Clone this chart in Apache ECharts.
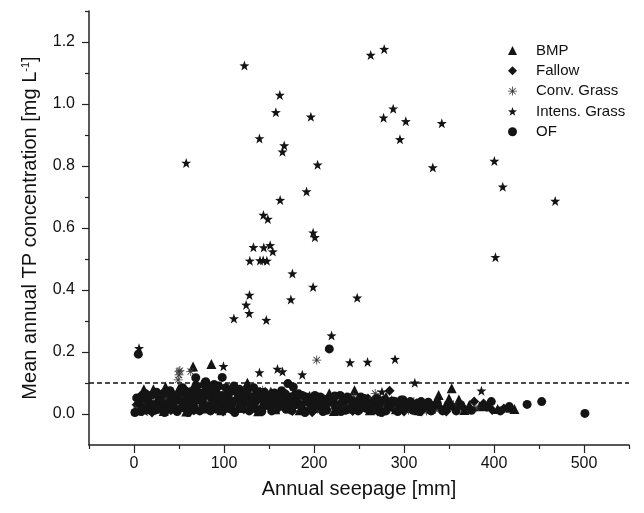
<!DOCTYPE html>
<html>
<head>
<meta charset="utf-8">
<script src="https://cdn.jsdelivr.net/npm/echarts@6/dist/echarts.min.js"></script>
<style>
  html, body { margin: 0; padding: 0; background: #fff; }
  #chart { width: 644px; height: 513px; }
</style>
</head>
<body>
<div id="chart"></div>
<script>
// tick values
var xTicks = [0, 100, 200, 300, 400, 500];
var xMinor = [-50, 50, 150, 250, 350, 450, 550];
var yTicks = [0, 0.2, 0.4, 0.6, 0.8, 1.0, 1.2];
var yMinor = [0.1, 0.3, 0.5, 0.7, 0.9, 1.1, 1.3];
var threshold = 0.1;

// [seepage mm, TP mg/L]
var bmpPts = [
  [2,0.012],[5,0.045],[9,0.028],[11,0.08],[14,0.06],[18,0.015],[21.5,0.08],[24,0.038],[29,0.055],[33,0.01],
  [35,0.088],[38,0.042],[44,0.065],[47,0.022],[50,0.083],[55,0.05],[58,0.008],[62,0.072],[65.6,0.153],[68,0.03],
  [72,0.058],[76,0.099],[81,0.018],[86,0.161],[88,0.046],[93,0.075],[97,0.012],[101,0.062],[106,0.034],[110,0.079],
  [115,0.02],[119,0.052],[126,0.101],[129,0.04],[134,0.068],[138,0.009],[143,0.056],[148,0.03],[152,0.072],[157,0.015],
  [162,0.048],[168,0.064],[173,0.026],[178,0.07],[184,0.012],[189,0.044],[195,0.058],[200,0.02],[206,0.036],[211,0.05],
  [217,0.067],[222,0.01],[228,0.032],[234,0.046],[240,0.018],[245,0.077],[251,0.028],[257,0.04],[262,0.012],[268,0.035],
  [274,0.022],[280,0.056],[285,0.03],[291,0.015],[297,0.038],[303,0.02],[309,0.028],[316,0.012],[322,0.03],[329,0.018],
  [338.5,0.061],[345,0.02],[350,0.05],[353,0.083],[361,0.047],[367,0.013],[372.6,0.029],[384,0.025],[404,0.016],[418,0.02],
  [422.7,0.016]
];
var fallowPts = [
  [3,0.03],[7,0.058],[12,0.02],[16,0.042],[20,0.005],[26,0.066],[31,0.03],[36,0.052],[41,0.012],[46,0.04],
  [52,0.068],[57,0.025],[61,0.045],[66,0.012],[70,0.078],[75,0.038],[79,0.055],[84,0.022],[90,0.065],[95,0.04],
  [99,0.008],[104,0.05],[109,0.028],[113,0.07],[118,0.036],[122,0.015],[127,0.058],[132,0.025],[137,0.044],[141,0.012],
  [146,0.066],[150,0.038],[155,0.02],[160,0.058],[165,0.032],[170,0.045],[176,0.01],[181,0.055],[186,0.028],[192,0.04],
  [198,0.006],[203,0.048],[209,0.022],[214,0.035],[220,0.045],[226,0.015],[231,0.055],[237,0.03],[243,0.01],[248,0.042],
  [254,0.02],[260,0.05],[265,0.025],[271,0.008],[277,0.04],[284,0.075],[288,0.018],[294,0.03],[300,0.008],[306,0.035],
  [313,0.02],[319,0.008],[326,0.025],[332,0.012],[340,0.02],[347,0.008],[357,0.018],[366,0.02],[378,0.04],[388.5,0.034],
  [398,0.013],[411,0.018]
];
var convPts = [
  [4,0.02],[8,0.04],[15,0.03],[22,0.055],[27,0.018],[34,0.048],[42,0.03],[49,0.11],[50,0.137],[50,0.126],
  [51,0.14],[53,0.06],[60,0.04],[63,0.137],[67,0.052],[74,0.02],[80,0.045],[87,0.062],[92,0.028],[100,0.052],
  [107,0.015],[112,0.045],[120,0.06],[125,0.028],[131,0.05],[136,0.018],[143,0.077],[147,0.045],[154,0.058],[159,0.025],
  [166,0.04],[172,0.06],[180,0.035],[187,0.05],[193,0.022],[199,0.045],[203,0.174],[207,0.012],[213,0.04],[219,0.028],
  [225,0.05],[232,0.022],[238,0.035],[244,0.055],[250,0.012],[256,0.032],[263,0.045],[268,0.066],[273,0.015],[279,0.03],
  [286,0.045],[292,0.02],[298,0.03],[305,0.012],[311,0.04],[318,0.025],[325,0.01],[335,0.015],[355,0.03],[380,0.02]
];
var intensPts = [
  [5.6,0.212],[58,0.81],[111,0.308],[122.7,1.124],[124.6,0.352],[128,0.325],[128.3,0.384],[128.7,0.494],[132.7,0.538],[139.4,0.889],
  [139.4,0.134],[140,0.495],[143.5,0.496],[143.8,0.642],[144.2,0.537],[147,0.303],[147.6,0.494],[148.7,0.629],[151.3,0.544],[154.2,0.524],
  [157.6,0.973],[159.4,0.145],[162,1.029],[162.4,0.69],[165,0.846],[165,0.137],[166.9,0.866],[174.3,0.369],[176,0.453],[187,0.127],
  [191.7,0.718],[196.5,0.959],[199,0.585],[201,0.57],[199,0.41],[204,0.804],[219.5,0.253],[240,0.166],[248,0.375],[259.5,0.168],
  [263,1.158],[275.5,0.072],[277.3,0.956],[278,1.177],[288,0.985],[290,0.177],[295.5,0.886],[302,0.944],[312,0.101],[332,0.795],
  [342,0.938],[386,0.075],[400.4,0.816],[401.6,0.506],[409.7,0.733],[468,0.687],[99.4,0.154],
  [10,0.05],[45,0.035],[85,0.055],[130,0.06],[175,0.045],[215,0.03],[255,0.035],[12,0.009],[70,0.012]
];
var ofPts = [
  [4.8,0.193],[217,0.21],[98,0.118],[68.6,0.117],[79.7,0.104],[171,0.098],[177,0.087],[397,0.04],[417,0.024],[436.8,0.031],
  [453,0.04],[501,0.002],
  [1,0.005],[6,0.035],[10,0.018],[13,0.065],[17,0.028],[23,0.012],[25,0.07],[30,0.04],[37,0.022],[40,0.075],
  [43,0.05],[48,0.008],[54,0.085],[56,0.035],[59,0.06],[64,0.018],[69,0.092],[71,0.045],[77,0.03],[78,0.07],
  [82,0.088],[85,0.01],[89,0.095],[91,0.05],[94,0.09],[96,0.03],[102,0.085],[105,0.062],[108,0.015],[111,0.09],
  [114,0.045],[117,0.08],[121,0.032],[124,0.065],[128,0.01],[133,0.085],[135,0.04],[139,0.072],[144,0.026],[149,0.055],
  [153,0.01],[156,0.068],[161,0.035],[164,0.075],[169,0.015],[174,0.055],[179,0.03],[183,0.065],[188,0.012],[191,0.055],
  [196,0.035],[201,0.06],[205,0.025],[210,0.008],[216,0.05],[221,0.038],[224,0.02],[229,0.06],[235,0.012],[239,0.048],
  [246,0.03],[252,0.055],[258,0.018],[264,0.035],[270,0.05],[275,0.005],[282,0.02],[287,0.042],[293,0.008],[299,0.045],
  [304,0.03],[310,0.012],[315,0.035],[321,0.02],[327,0.038],[334,0.028],[343,0.01],[352,0.025],[363,0.03],[375,0.012],
  [392,0.022],[407,0.01],
  [3,0.052],[8,0.008],[15,0.045],[19,0.06],[21,0.03],[27,0.015],[28,0.052],[32,0.065],[34,0.005],[39,0.035],
  [42,0.06],[45,0.015],[49,0.045],[51,0.068],[53,0.02],[57,0.075],[60,0.005],[62,0.04],[66,0.055],[67,0.08],
  [73,0.01],[74,0.065],[76,0.048],[80,0.025],[83,0.06],[87,0.035],[88,0.075],[92,0.015],[98,0.06],[100,0.04],
  [103,0.02],[107,0.075],[110,0.04],[112,0.005],[116,0.06],[119,0.018],[123,0.05],[126,0.078],[130,0.03],[132,0.055],
  [136,0.015],[140,0.05],[142,0.008],[145,0.07],[147,0.04],[151,0.025],[154,0.045],[158,0.015],[159,0.06],[163,0.025],
  [166,0.05],[168,0.065],[171,0.035],[175,0.012],[178,0.055],[181,0.04],[185,0.028],[187,0.06],[190,0.005],[193,0.04],
  [197,0.018],[199,0.05],[203,0.035],[207,0.055],[212,0.03],[214,0.012],[218,0.045],[223,0.058],[227,0.03],[230,0.008],
  [233,0.04],[237,0.055],[242,0.02],[244,0.04],[249,0.01],[253,0.035],[256,0.05],[261,0.028],[266,0.012],[268,0.045],
  [272,0.03],[278,0.045],[280,0.01],[285,0.03],[290,0.04],[295,0.018],[297,0.045],[301,0.02],[307,0.04],[312,0.028],
  [317,0.008],[319,0.04],[324,0.03],[330,0.01],[337,0.035],[349,0.03],[358,0.01]
];

var starPath = 'path://M0,-10 L2.35,-3.24 L9.51,-3.09 L3.8,1.24 L5.88,8.09 L0,4 L-5.88,8.09 L-3.8,1.24 L-9.51,-3.09 L-2.35,-3.24 Z';
var asteriskPath = 'path://M-0.9,-10 L0.9,-10 L0.9,10 L-0.9,10 Z M-10,-0.9 L10,-0.9 L10,0.9 L-10,0.9 Z ' +
  'M-7.7,-6.4 L-6.4,-7.7 L7.7,6.4 L6.4,7.7 Z M6.4,-7.7 L7.7,-6.4 L-6.4,7.7 L-7.7,6.4 Z';

var ink = '#141414';
var font = 'Liberation Sans, Arial, sans-serif';

var myChart = echarts.init(document.getElementById('chart'));

function pointSeries(name, data, symbol, size, color) {
  return {
    name: name,
    type: 'scatter',
    data: data,
    symbol: symbol,
    symbolSize: size,
    itemStyle: { color: color, opacity: 1 },
    emphasis: { disabled: true },
    silent: true
  };
}

var series = [
  pointSeries('BMP', bmpPts, 'triangle', 10, ink),
  pointSeries('Fallow', fallowPts, 'diamond', 10, ink),
  pointSeries('Conv. Grass', convPts, asteriskPath, 9, '#3a3a3a'),
  pointSeries('Intens. Grass', intensPts, starPath, 10, ink),
  pointSeries('OF', ofPts, 'circle', 9, ink)
];
// dashed threshold line
series[0].markLine = {
  silent: true,
  symbol: 'none',
  label: { show: false },
  lineStyle: { color: '#111', type: [5, 3], width: 1.5 },
  data: [{ yAxis: threshold }]
};

var option = {
  animation: false,
  backgroundColor: '#fff',
  grid: { left: 89, right: 15, top: 11, bottom: 68 },
  legend: {
    orient: 'vertical',
    left: 503,
    top: 38,
    itemWidth: 9,
    itemHeight: 9,
    itemGap: 5.3,
    selectedMode: false,
    textStyle: { fontFamily: font, fontSize: 15, color: '#111', lineHeight: 14, padding: [0, 0, 0, 14] },
    data: ['BMP', 'Fallow', 'Conv. Grass', 'Intens. Grass', 'OF']
  },
  xAxis: [{
    type: 'value',
    min: -50,
    max: 550,
    name: 'Annual seepage [mm]',
    nameLocation: 'middle',
    nameGap: 34,
    nameTextStyle: { fontFamily: font, fontSize: 20, color: '#111' },
    axisLine: { show: true, onZero: false, lineStyle: { color: '#222', width: 1.5 } },
    axisTick: { show: true, length: 8, customValues: xTicks, lineStyle: { color: '#222', width: 1.2 } },
    axisLabel: { customValues: xTicks, margin: 11, fontFamily: font, fontSize: 16, color: '#111' },
    splitLine: { show: false }
  }, {
    type: 'value',
    min: -50,
    max: 550,
    position: 'bottom',
    axisLine: { show: false, onZero: false },
    axisTick: { show: true, length: 4, customValues: xMinor, lineStyle: { color: '#222', width: 1.2 } },
    axisLabel: { show: false, customValues: xMinor },
    splitLine: { show: false }
  }],
  yAxis: [{
    type: 'value',
    min: -0.1,
    max: 1.3,
    name: '{a|Mean annual TP concentration [mg L}{s|-1}{a|]}',
    nameLocation: 'middle',
    nameGap: 49,
    nameTextStyle: {
      rich: {
        a: { fontFamily: font, fontSize: 20, color: '#111' },
        s: { fontFamily: font, fontSize: 11, color: '#111', verticalAlign: 'top', padding: [0, 0, 8, 0] }
      }
    },
    axisLine: { show: true, onZero: false, lineStyle: { color: '#222', width: 1.5 } },
    axisTick: { show: true, length: 7, customValues: yTicks, lineStyle: { color: '#222', width: 1.2 } },
    axisLabel: {
      customValues: yTicks, margin: 14, fontFamily: font, fontSize: 16, color: '#111',
      formatter: function (v) { return v.toFixed(1); }
    },
    splitLine: { show: false }
  }, {
    type: 'value',
    min: -0.1,
    max: 1.3,
    position: 'left',
    axisLine: { show: false, onZero: false },
    axisTick: { show: true, length: 4, customValues: yMinor, lineStyle: { color: '#222', width: 1.2 } },
    axisLabel: { show: false, customValues: yMinor },
    splitLine: { show: false }
  }],
  series: series
};

myChart.setOption(option);
</script>
</body>
</html>
